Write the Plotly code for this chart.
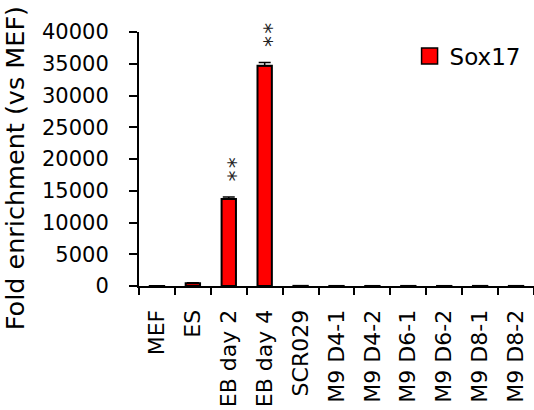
import plotly.graph_objects as go

categories = ["MEF", "ES", "EB day 2", "EB day 4", "SCR029", "M9 D4-1", "M9 D4-2",
              "M9 D6-1", "M9 D6-2", "M9 D8-1", "M9 D8-2"]
sox17 = [1, 450, 13700, 34700, 20, 8, 6, 10, 7, 12, 9]
sox17_err = [0.2, 60, 300, 500, 5, 2, 2, 3, 2, 3, 2]
significant = ["EB day 2", "EB day 4"]
y_ticks = [0, 5000, 10000, 15000, 20000, 25000, 30000, 35000, 40000]

FONT = "DejaVu Sans"

fig = go.Figure()
fig.add_trace(go.Bar(
    x=categories, y=sox17, name="Sox17", showlegend=False,
    marker=dict(color="#FF0000", line=dict(color="black", width=2)),
    error_y=dict(type="data", array=sox17_err, arrayminus=[0] * len(sox17_err),
                 symmetric=False, color="black", thickness=1.5, width=6),
))
# legend entry with larger square swatch
fig.add_trace(go.Scatter(
    x=[None], y=[None], mode="markers", name="Sox17",
    marker=dict(symbol="square", size=16, color="#FF0000",
                line=dict(color="black", width=1.5)),
))

for c in significant:
    i = categories.index(c)
    top = sox17[i] + sox17_err[i]
    fig.add_annotation(x=c, y=top, text="*\u200a*", showarrow=False, textangle=90,
                       yanchor="bottom", yshift=14,
                       font=dict(family=FONT, size=22, color="#222"))

fig.add_annotation(
    text="Fold enrichment (vs MEF)", xref="paper", yref="paper",
    x=-0.315, y=0.462, xanchor="center", yanchor="middle",
    textangle=-90, showarrow=False,
    font=dict(family=FONT, size=25.5, color="black"),
)

fig.update_layout(
    width=534, height=410,
    margin=dict(l=139, r=0, t=32, b=124),
    paper_bgcolor="white", plot_bgcolor="white",
    bargap=0.6,
    font=dict(family=FONT, color="black"),
    legend=dict(x=0.685, y=0.99, xanchor="left", yanchor="top",
                font=dict(family=FONT, size=23, color="black"),
                bgcolor="rgba(0,0,0,0)"),
)
fig.update_xaxes(
    type="category", showline=True, linecolor="black", linewidth=2,
    ticks="outside", tickson="boundaries", ticklen=7, tickwidth=2, tickcolor="black",
    tickangle=-90, tickfont=dict(family=FONT, size=22, color="black"),
    ticklabelstandoff=13, showgrid=False,
)
fig.update_yaxes(
    range=[0, 40000], tickvals=y_ticks, ticktext=[str(v) for v in y_ticks],
    showline=True, linecolor="black", linewidth=2,
    ticks="outside", ticklen=8, tickwidth=2, tickcolor="black",
    tickfont=dict(family=FONT, size=21, color="black"),
    ticklabelstandoff=16, showgrid=False, zeroline=False,
)

fig.write_html(
    "out.html",
    config={"displayModeBar": False},
    post_script="document.body.style.margin='0';document.body.style.overflow='hidden';",
)
